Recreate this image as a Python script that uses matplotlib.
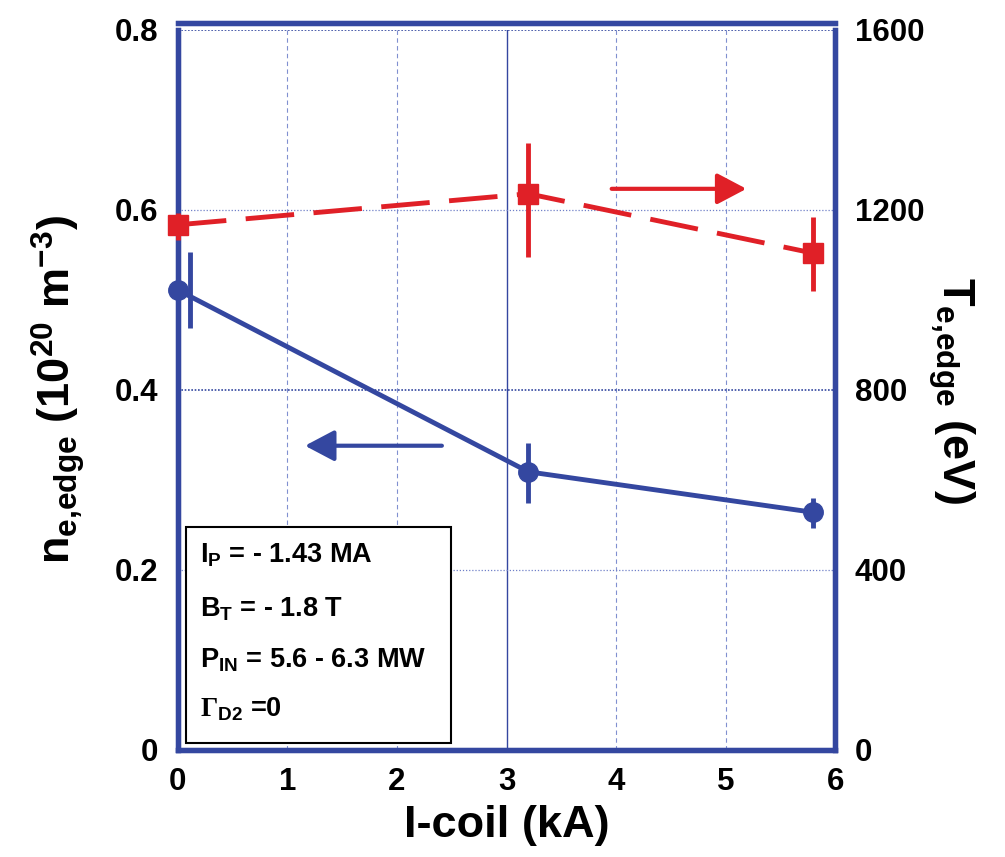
import matplotlib
matplotlib.use("Agg")
import matplotlib.pyplot as plt
from matplotlib.patches import Rectangle

# 字型設定 (粗體 Helvetica 風格)
plt.rcParams['font.family'] = ['Liberation Sans', 'DejaVu Sans']
plt.rcParams['font.weight'] = 'bold'
plt.rcParams['mathtext.fontset'] = 'custom'
plt.rcParams['mathtext.rm'] = 'Liberation Sans:bold'
plt.rcParams['mathtext.it'] = 'Liberation Sans:bold'
plt.rcParams['mathtext.bf'] = 'Liberation Sans:bold'
plt.rcParams['mathtext.sf'] = 'Liberation Serif'

# 資料
icoil = [0.0, 3.2, 5.8]
ne_edge = [0.511, 0.309, 0.264]
ne_err_lo = [0.042, 0.035, 0.017]
ne_err_hi = [0.042, 0.032, 0.016]
ne_err_x = [0.11, 3.2, 5.8]  # 第一個誤差棒稍微往右偏

te_edge = [1167, 1236, 1104]
te_err_lo = [33, 140, 84]
te_err_hi = [27, 113, 80]

blue = '#3447a0'
red = '#e02027'

fig = plt.figure(figsize=(10.05, 8.57), dpi=100)
ax = fig.add_axes([0.177, 0.125, 0.654, 0.840])
ax2 = ax.twinx()

# 格線
for xv in [1, 2, 4, 5]:
    ax.axvline(xv, color='#8090d0', lw=0.8, ls=(0, (4, 3)), zorder=0)
ax.axvline(3, color=blue, lw=1.0, zorder=0)
for yv in [0.2, 0.6]:
    ax.axhline(yv, color='#7080c8', lw=0.9, ls=(0, (1, 1.5)), zorder=0)
for yv in [0.4, 0.8]:
    ax.axhline(yv, color=blue, lw=1.2, ls=(0, (1, 1)), zorder=0)

# 藍色 n_e,edge (左軸)
ax.plot(icoil, ne_edge, color=blue, lw=3.5, marker='o', ms=14, clip_on=False, zorder=4)
ax.errorbar(ne_err_x, ne_edge, yerr=[ne_err_lo, ne_err_hi], fmt='none',
            ecolor=blue, elinewidth=3.5, capsize=0, clip_on=False, zorder=4)

# 紅色 T_e,edge (右軸)
ax2.plot(icoil, te_edge, color=red, lw=3.5, ls=(0, (10, 4)), zorder=4)
ax2.plot(icoil, te_edge, color=red, lw=0, marker='s', ms=14, clip_on=False, zorder=5)
ax2.errorbar(icoil, te_edge, yerr=[te_err_lo, te_err_hi], fmt='none',
             ecolor=red, elinewidth=3.5, capsize=0, clip_on=False, zorder=5)

# 箭頭 (實心箭頭)
arrow_style = '-|>,head_length=1.8,head_width=0.95'
ax.annotate('', xy=(1.16, 0.338), xytext=(2.41, 0.338),
            arrowprops=dict(arrowstyle=arrow_style, color=blue, lw=3,
                            shrinkA=0, shrinkB=0))
ax2.annotate('', xy=(5.19, 1247), xytext=(3.96, 1247),
             arrowprops=dict(arrowstyle=arrow_style, color=red, lw=3,
                             shrinkA=0, shrinkB=0))

# 軸範圍與刻度
ax.set_xlim(0, 6)
ax.set_ylim(0, 0.8)
ax2.set_ylim(0, 1600)
ax.set_xticks([0, 1, 2, 3, 4, 5, 6])
ax.set_yticks([0, 0.2, 0.4, 0.6, 0.8])
ax.set_yticklabels(['0', '0.2', '0.4', '0.6', '0.8'])
ax2.set_yticks([0, 400, 800, 1200, 1600])
ax.tick_params(axis='both', length=0, labelsize=22.5, pad=14)
ax.tick_params(axis='x', pad=12)
ax2.tick_params(axis='y', length=0, labelsize=22.5, pad=14)

for a in (ax, ax2):
    for s in a.spines.values():
        s.set_color(blue)
        s.set_linewidth(3.8)
ax.spines['top'].set_position(('axes', 1.01))
ax2.spines['top'].set_position(('axes', 1.01))

ax.set_xlabel('I-coil (kA)', fontsize=32.5, fontweight='bold', labelpad=6)
ax.set_ylabel(r'n$_{e{,}edge}$ (10$^{20}$ m$^{-3}$)', fontsize=32.5, fontweight='bold', labelpad=20)
ax2.set_ylabel(r'T$_{e{,}edge}$ (eV)', fontsize=32.5, fontweight='bold', rotation=270, labelpad=38)

# 參數框
box = Rectangle((0.012, 0.0097), 0.404, 0.30, transform=ax.transAxes,
                facecolor='white', edgecolor='black', lw=1.5, zorder=6)
ax.add_patch(box)
lines = [r'I$_\mathrm{P}$ = - 1.43 MA',
         r'B$_\mathrm{T}$ = - 1.8 T',
         r'P$_\mathrm{IN}$ = 5.6 - 6.3 MW',
         r'$\mathsf{\Gamma}_\mathrm{D2}$ =0']
ys = [0.26, 0.185, 0.115, 0.046]
for s, yy in zip(lines, ys):
    ax.text(0.0335, yy, s, transform=ax.transAxes, fontsize=19.5, fontweight='bold',
            va='baseline', ha='left', zorder=7)

plt.savefig('out.png', dpi=100)
